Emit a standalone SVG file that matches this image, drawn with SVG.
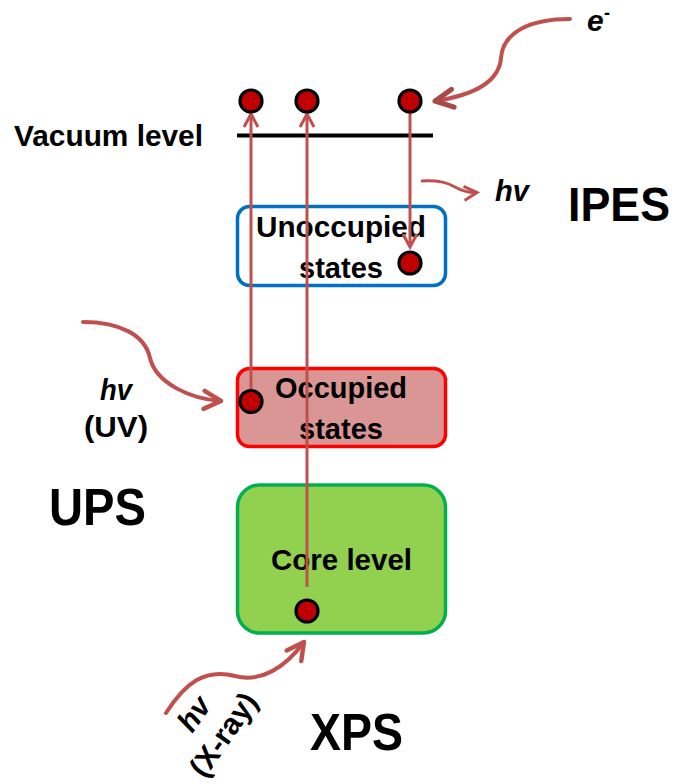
<svg xmlns="http://www.w3.org/2000/svg" width="678" height="784" viewBox="0 0 678 784">
<style>
text{font-family:"Liberation Sans",Arial,sans-serif;font-weight:bold;fill:#000}
.lbl{font-size:30px}
.big{font-size:52px}
.it{font-style:italic}
.box{stroke-width:3.5}
.dot{fill:#C00000;stroke:#000;stroke-width:3.2}
.straight{fill:none;stroke:#C0504D;stroke-width:3}
.curve{fill:none;stroke:#C0504D;stroke-width:4;stroke-linecap:round}
</style>
<defs>
<marker id="chev" markerUnits="userSpaceOnUse" viewBox="-16 -10 20 20" refX="0" refY="0" markerWidth="20" markerHeight="20" orient="auto">
<path d="M-13,-7 L0,0 L-13,7" fill="none" stroke="#C0504D" stroke-width="3"/>
</marker>
<marker id="chevBig" markerUnits="userSpaceOnUse" viewBox="-22 -14 26 28" refX="0" refY="0" markerWidth="26" markerHeight="28" orient="auto">
<path d="M-17,-9 L0,0 L-17,9" fill="none" stroke="#C0504D" stroke-width="4.5" stroke-linecap="round" stroke-linejoin="round"/>
</marker>
<marker id="chevE" markerUnits="userSpaceOnUse" viewBox="-22 -14 26 28" refX="0" refY="0" markerWidth="26" markerHeight="28" orient="auto">
<path d="M-18,-9 L0,0 L-18,9" fill="none" stroke="#A84B48" stroke-width="5" stroke-linecap="round" stroke-linejoin="round"/>
</marker>
</defs>

<g id="vacuum-level">
<line x1="237" y1="135.5" x2="433" y2="135.5" stroke="#000" stroke-width="4"/>
<text class="lbl" x="14" y="146" textLength="189" lengthAdjust="spacingAndGlyphs">Vacuum level</text>
</g>

<g id="unoccupied-states">
<rect class="box" x="237.5" y="206.5" width="208" height="79" rx="12" fill="#FFFFFF" stroke="#0070C0" stroke-width="3"/>
<text class="lbl" x="256" y="237" textLength="170" lengthAdjust="spacingAndGlyphs">Unoccupied</text>
<text class="lbl" x="299" y="278" textLength="84" lengthAdjust="spacingAndGlyphs">states</text>
</g>

<g id="occupied-states">
<rect class="box" x="237.5" y="368.5" width="208" height="78" rx="12" fill="#D99694" stroke="#FF0000"/>
<text class="lbl" x="275" y="398" textLength="132" lengthAdjust="spacingAndGlyphs">Occupied</text>
<text class="lbl" x="299" y="439" textLength="84" lengthAdjust="spacingAndGlyphs">states</text>
</g>

<g id="core-level">
<rect class="box" x="237.5" y="485" width="208" height="148" rx="22" fill="#92D050" stroke="#00B050"/>
<text class="lbl" x="271" y="570" textLength="141" lengthAdjust="spacingAndGlyphs">Core level</text>
</g>

<g id="ipes-label">
<text x="568" y="221" font-size="48" textLength="102" lengthAdjust="spacingAndGlyphs">IPES</text>
<text class="lbl it" x="495" y="201" textLength="34" lengthAdjust="spacingAndGlyphs">hv</text>
</g>

<g id="electron-label">
<text class="lbl it" x="587" y="31">e</text>
<text class="it" x="604" y="19" font-size="18">-</text>
</g>

<g id="ups-label">
<text class="big" x="49" y="525" textLength="97" lengthAdjust="spacingAndGlyphs">UPS</text>
<text class="lbl it" x="100" y="400" textLength="32" lengthAdjust="spacingAndGlyphs">hv</text>
<text class="lbl" x="84" y="437" textLength="64" lengthAdjust="spacingAndGlyphs">(UV)</text>
</g>

<g id="xps-label">
<text class="big" x="310" y="750" textLength="93" lengthAdjust="spacingAndGlyphs">XPS</text>
<g transform="translate(194,714) rotate(-55)">
<text class="lbl it" x="0" y="10" text-anchor="middle">hv</text>
<text class="lbl" x="0" y="46" text-anchor="middle">(X-ray)</text>
</g>
</g>

<g id="connectors">
<line class="straight" x1="251" y1="401" x2="251" y2="114" marker-end="url(#chev)"/>
<line class="straight" x1="307" y1="587" x2="307" y2="114" marker-end="url(#chev)"/>
<line class="straight" x1="410" y1="101" x2="410" y2="247" marker-end="url(#chev)"/>
<path class="straight" d="M421,181 C440,180 448,183 455,187 C462,191 470,193 477,192.5" marker-end="url(#chev)"/>
<path class="curve" d="M570,19 C530,19 503,32 501,58 C499,84 468,96 435,101" stroke="#A84B48" stroke-width="5" marker-end="url(#chevE)"/>
<path class="curve" d="M83,322 C120,322 145,335 150,358 C156,383 190,399 221,401" marker-end="url(#chevBig)"/>
<path class="curve" d="M166,713 C185,683 205,668 235,676 C260,683 285,668 304,642" marker-end="url(#chevBig)"/>
</g>

<g id="electrons">
<circle class="dot" cx="251" cy="101" r="11"/>
<circle class="dot" cx="307" cy="101" r="11"/>
<circle class="dot" cx="410" cy="101" r="11"/>
<circle class="dot" cx="410" cy="263" r="11"/>
<circle class="dot" cx="251" cy="401.5" r="11"/>
<circle class="dot" cx="307" cy="611" r="11"/>
</g>
</svg>
